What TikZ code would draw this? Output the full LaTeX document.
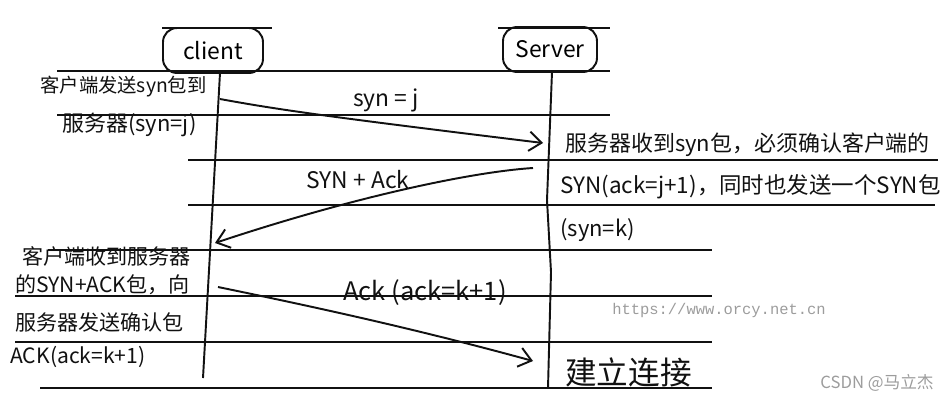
\documentclass[tikz,border=0pt]{standalone}
\usepackage{fontspec}
\setmainfont{Noto Sans CJK SC}
\newfontfamily\urlfont{Liberation Mono}
\usetikzlibrary{arrows.meta}
\definecolor{inkBlack}{HTML}{111111}
\definecolor{markGray}{HTML}{9C9C9C}

\tikzset{
  ruled/.style={inkBlack, line width=0.8pt},
  lifeline/.style={inkBlack, line width=1.1pt},
  msg/.style={inkBlack, line width=1.1pt, -{Straight Barb[length=7pt,width=11pt]}},
  party/.style={draw=inkBlack, line width=1.1pt, rounded corners=8pt, inner sep=0pt,
    font=\fontsize{13}{15}\selectfont},
  note/.style={anchor=west, inner sep=0pt, text=inkBlack},
  msglabel/.style={inner sep=0pt, text=inkBlack, font=\fontsize{13}{15}\selectfont},
}

\begin{document}
\begin{tikzpicture}[x=0.02cm, y=-0.02cm]
  \useasboundingbox (0,0) rectangle (949,400);

  % ruled paper
  \draw[ruled] (162,28) -- (272,28);
  \draw[ruled] (498,28) -- (610,28);
  \draw[ruled] (57,71) -- (610,71);
  \draw[ruled] (57,115) -- (610,115);
  \draw[ruled] (188,160) -- (938,160);
  \draw[ruled] (188,205) -- (935,205);
  \draw[ruled] (48,250) -- (712,250);
  \draw[ruled] (15,296) -- (712,296);
  \draw[ruled] (15,342) -- (712,342);
  \draw[ruled] (40,388) -- (712,388);

  % the two parties
  \node[party, minimum width=2cm, minimum height=0.9cm] (client) at (213,50.5) {client};
  \node[party, minimum width=1.88cm, minimum height=0.9cm] (server) at (550,49.5) {Server};

  % lifelines
  \coordinate (cTop) at (220,73);
  \coordinate (cEnd) at (203,378);
  \coordinate (sTop) at (552,72);
  \coordinate (sEnd) at (548,388);
  \draw[lifeline] (cTop) -- (cEnd);
  \draw[lifeline] (sTop) -- (547,200) -- (551,272) -- (sEnd);

  % messages
  \coordinate (synOut) at (220,99);
  \coordinate (synIn) at (543,143);
  \coordinate (ackOut) at (533,168);
  \coordinate (ackIn) at (215,243);
  \coordinate (finOut) at (218,287);
  \coordinate (finIn) at (533,361);
  \draw[msg] (synOut) .. controls (280,110) and (330,117) .. (synIn);
  \draw[msg] (ackOut) .. controls (470,172) and (350,198) .. (ackIn);
  \draw[msg] (finOut) .. controls (320,308) and (420,330) .. (finIn);
  \node[msglabel] (synLbl) at (386,100) {syn = j};
  \node[msglabel] (ackLbl) at (358,180) {SYN + Ack};
  \node[msglabel, font=\fontsize{14.5}{16}\selectfont] (finLbl) at (425,293) {Ack (ack=k+1)};

  % client notes
  \node[note, font=\fontsize{11}{12}\selectfont] (c1) at (40,87) {客户端发送syn包到};
  \node[note, font=\fontsize{12.5}{14}\selectfont] (c2) at (62,125) {服务器(syn=j)};
  \node[note, font=\fontsize{12}{14}\selectfont] (c3) at (22,256) {客户端收到服务器};
  \node[note, font=\fontsize{12}{14}\selectfont] (c4) at (15,285) {的SYN+ACK包，向};
  \node[note, font=\fontsize{12}{14}\selectfont] (c5) at (15,322) {服务器发送确认包};
  \node[note, font=\fontsize{12}{14}\selectfont] (c6) at (10,357) {ACK(ack=k+1)};

  % server notes
  \node[note, font=\fontsize{12.5}{14}\selectfont] (s1) at (565,145) {服务器收到syn包，必须确认客户端的};
  \node[note, font=\fontsize{12.8}{14}\selectfont] (s2) at (560,187) {SYN(ack=j+1)，同时也发送一个SYN包};
  \node[note, font=\fontsize{12.5}{14}\selectfont] (s3) at (560,230) {(syn=k)};
  \node[note, font=\fontsize{18}{21}\selectfont] (s4) at (565,372) {建立连接};

  % marks on the scan
  \node[inner sep=0pt, text=markGray, font=\urlfont\fontsize{8.8}{10}\selectfont] (url) at (719,310) {https://www.orcy.net.cn};
  \node[inner sep=0pt, text=markGray, anchor=east, font=\fontsize{9.5}{11}\selectfont] (csdn) at (934,383) {CSDN @马立杰};
\end{tikzpicture}
\end{document}
